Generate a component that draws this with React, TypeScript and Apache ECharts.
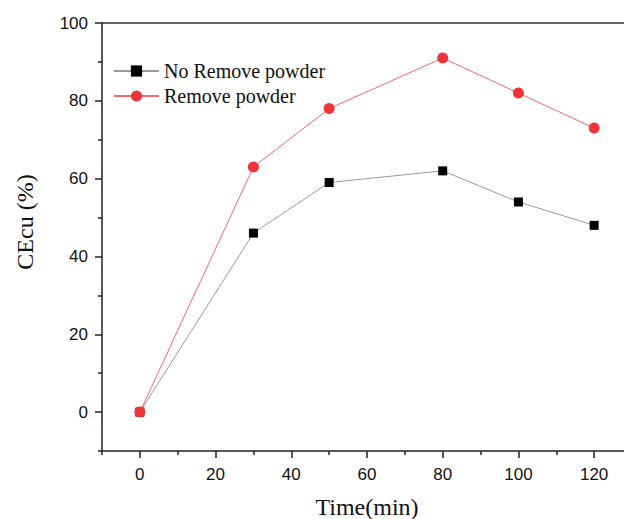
import React, { useEffect, useRef } from "react";
import * as echarts from "echarts";

const timeMin = [0, 30, 50, 80, 100, 120];
const noRemove = [0, 46, 59, 62, 54, 48];
const removePowder = [0, 63, 78, 91, 82, 73];
const xMajorTicks = [0, 20, 40, 60, 80, 100, 120];
const xMinorTicks = [-10, 10, 30, 50, 70, 90, 110, 130];
const yMajorTicks = [0, 20, 40, 60, 80, 100];
const yMinorTicks = [-10, 10, 30, 50, 70, 90];
const seriesNames = ["No Remove powder", "Remove powder"];

export default function App() {
  const ref = useRef<HTMLDivElement>(null);
  useEffect(() => {
    if (!ref.current) return;
    const chart = echarts.init(ref.current, null, { renderer: "svg" });
    const axisColor = "#222";
    const labelStyle = {
      fontFamily: "Liberation Sans, Arial, sans-serif",
      fontSize: 17,
      color: "#111",
    };
    const option: any = {
      animation: false,
      backgroundColor: "#fff",
      grid: { left: 102, right: 8, top: 23, bottom: 68 },
      legend: {
        orient: "vertical",
        left: 113,
        top: 61,
        padding: 0,
        itemWidth: 45,
        itemHeight: 14,
        itemGap: 5,
        data: seriesNames,
        textStyle: {
          fontFamily: "Liberation Serif, Times New Roman, serif",
          fontSize: 20,
          color: "#111",
        },
      },
      xAxis: [
        {
          type: "value",
          min: -10,
          max: 130,
          position: "bottom",
          axisLine: { show: true, onZero: false, lineStyle: { color: axisColor, width: 1.5 } },
          axisTick: {
            show: true,
            customValues: xMajorTicks,
            length: 7,
            lineStyle: { color: axisColor, width: 1.5 },
          },
          axisLabel: { ...labelStyle, customValues: xMajorTicks, margin: 15 },
          splitLine: { show: false },
        },
        {
          type: "value",
          min: -10,
          max: 130,
          position: "bottom",
          axisLine: { show: false, onZero: false },
          axisTick: {
            show: true,
            customValues: xMinorTicks,
            length: 4,
            lineStyle: { color: axisColor, width: 1.5 },
          },
          axisLabel: { show: false },
          splitLine: { show: false },
        },
        {
          type: "value",
          min: -10,
          max: 130,
          position: "top",
          axisLine: { show: true, onZero: false, lineStyle: { color: "#333", width: 1.5 } },
          axisTick: { show: false },
          axisLabel: { show: false },
          splitLine: { show: false },
        },
      ],
      yAxis: [
        {
          type: "value",
          min: -10,
          max: 100,
          position: "left",
          axisLine: { show: true, onZero: false, lineStyle: { color: axisColor, width: 1.5 } },
          axisTick: {
            show: true,
            customValues: yMajorTicks,
            length: 7,
            lineStyle: { color: axisColor, width: 1.5 },
          },
          axisLabel: { ...labelStyle, customValues: yMajorTicks, margin: 14 },
          splitLine: { show: false },
        },
        {
          type: "value",
          min: -10,
          max: 100,
          position: "left",
          axisLine: { show: false, onZero: false },
          axisTick: {
            show: true,
            customValues: yMinorTicks,
            length: 4,
            lineStyle: { color: axisColor, width: 1.5 },
          },
          axisLabel: { show: false },
          splitLine: { show: false },
        },
      ],
      series: [
        {
          name: seriesNames[0],
          type: "line",
          xAxisIndex: 0,
          yAxisIndex: 0,
          data: timeMin.map((t, i) => [t, noRemove[i]]),
          symbol: "rect",
          symbolSize: 9,
          lineStyle: { color: "#9a9a9a", width: 1 },
          itemStyle: { color: "#000" },
          z: 2,
        },
        {
          name: seriesNames[1],
          type: "line",
          xAxisIndex: 0,
          yAxisIndex: 0,
          data: timeMin.map((t, i) => [t, removePowder[i]]),
          symbol: "circle",
          symbolSize: 11,
          lineStyle: { color: "#f26a6a", width: 1 },
          itemStyle: { color: "#ee3339" },
          z: 3,
        },
      ],
      graphic: [
        {
          type: "text",
          x: 367,
          y: 507,
          style: {
            text: "Time(min)",
            font: "24px 'Liberation Serif', 'Times New Roman', serif",
            fill: "#111",
            textAlign: "center",
            textVerticalAlign: "middle",
          },
        },
        {
          type: "text",
          x: 25,
          y: 222,
          rotation: Math.PI / 2,
          style: {
            text: "CEcu (%)",
            font: "24px 'Liberation Serif', 'Times New Roman', serif",
            fill: "#111",
            textAlign: "center",
            textVerticalAlign: "middle",
          },
        },
      ],
    };
    chart.setOption(option);
    return () => chart.dispose();
  }, []);
  return (
    <div
      style={{
        position: "fixed",
        left: 0,
        top: 0,
        width: 624,
        height: 519,
        overflow: "hidden",
        background: "#fff",
      }}
    >
      <div ref={ref} style={{ width: 640, height: 519 }} />
    </div>
  );
}
